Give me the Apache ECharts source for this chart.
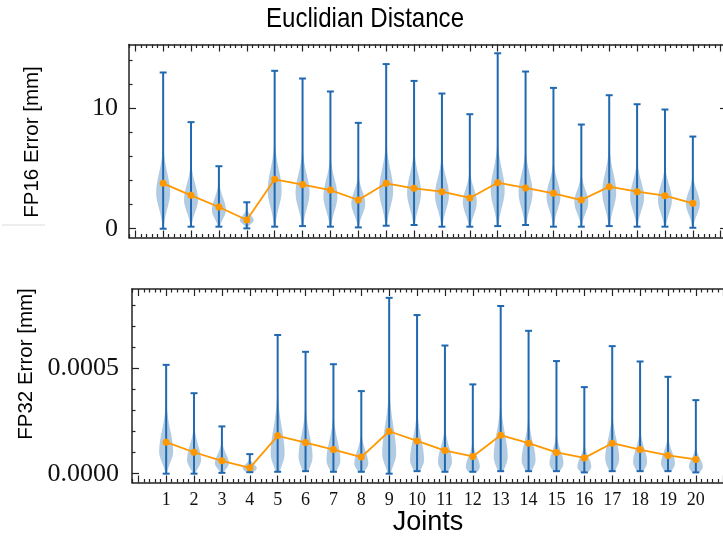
<!DOCTYPE html>
<html><head><meta charset="utf-8">
<script src="https://cdn.jsdelivr.net/npm/echarts@6/dist/echarts.min.js"></script>
<style>html,body{margin:0;padding:0;background:#fff}#c{width:723px;height:538px}</style>
</head><body><div id="c"></div>
<script>
// ---------------- data ----------------
const joints = [1,2,3,4,5,6,7,8,9,10,11,12,13,14,15,16,17,18,19,20];
const jointLabels = ['1','2','3','4','5','6','7','8','9','10','11','12','13','14','15','16','17','18','19','20'];

// FP16 error [mm]
const fp16Min  = [0.0,0.17,0.17,0.03,0.17,0.22,0.17,0.11,0.25,0.31,0.17,0.17,0.22,0.31,0.17,0.17,0.22,0.17,0.17,0.08];
const fp16Max  = [13.0,8.87,5.2,2.2,13.14,12.5,11.42,8.81,13.7,12.3,11.25,9.53,14.6,13.08,11.72,8.67,11.11,10.36,9.92,7.67];
const fp16Mean = [3.78,2.78,1.81,0.73,4.11,3.67,3.22,2.39,3.78,3.36,3.08,2.56,3.83,3.39,2.95,2.39,3.5,3.08,2.75,2.11];
// density shape of each violin: value of widest point, spread below / above it
const fp16Mode = [3.0,2.4,1.55,0.7,3.2,3.0,2.7,2.1,3.2,3.0,2.8,2.2,3.2,3.0,2.7,2.2,3.0,2.6,2.4,2.1];
const fp16SpreadLo = [1.3,1.0,0.7,0.3,1.4,1.3,1.2,0.9,1.4,1.3,1.2,1.0,1.4,1.3,1.1,0.9,1.3,1.1,1.1,0.9];
const fp16SpreadHi = [1.6,1.3,1.0,0.4,1.7,1.5,1.4,1.0,1.7,1.5,1.4,1.1,1.7,1.5,1.2,1.0,1.6,1.3,1.2,1.0];
const fp16TickValues = [0, 10];
const fp16TickLabels = ['0', '10'];

// FP32 error [mm]
const fp32Min  = [0.0,0.0,0.000004,0.000007,0.000009,0.000012,0.000009,0.000009,0.0,0.000012,0.000009,0.000009,0.000012,0.000012,0.000012,0.000006,0.000012,0.000012,0.000012,0.000006];
const fp32Max  = [0.000518,0.000383,0.000225,0.000093,0.00066,0.00058,0.000521,0.000393,0.000837,0.000755,0.00061,0.000425,0.000798,0.00068,0.000536,0.000412,0.000607,0.000534,0.000461,0.00035];
const fp32Mean = [0.00015,0.000102,0.000061,0.000028,0.00018,0.000148,0.000115,0.000079,0.000202,0.000156,0.00011,0.000082,0.000183,0.000145,0.000101,0.000075,0.000145,0.000115,0.000087,0.000068];
const fp32Mode = [0.000104,0.000064,0.000048,0.000025,0.000095,0.00008,0.000064,0.000048,0.000095,0.000064,0.000055,0.000032,0.00008,0.000064,0.000048,0.000032,0.000072,0.000055,0.000048,0.000032];
const fp32SpreadLo = [0.00005,0.000035,0.000025,0.000015,0.000055,0.00005,0.00004,0.00003,0.000055,0.00004,0.000035,0.000025,0.00005,0.00004,0.00003,0.000022,0.000045,0.000035,0.00003,0.000022];
const fp32SpreadHi = [0.0001,0.00007,0.000045,0.00002,0.00012,0.0001,0.00009,0.00006,0.00013,0.0001,0.00007,0.00005,0.00011,0.000085,0.00006,0.000045,0.00009,0.000065,0.000055,0.00004];
const fp32TickValues = [0, 0.0005];
const fp32TickLabels = ['0.0000', '0.0005'];

// ---------------- style ----------------
const BLUE = '#2068b0';
const BODY = 'rgba(12,93,165,0.32)';
const ORANGE = '#FF9800';
const AXIS = '#222';
const SERIF = '"Liberation Serif", "DejaVu Serif", serif';
const SANS = '"Liberation Sans", Arial, sans-serif';
const HALF = 0.25, CAP = 0.125;
const XMIN = -0.225, XMAX = 21.225;

const xMajor = []; for (let i = 0; i <= 21; i++) xMajor.push(i);
const xMinor = []; for (let i = -1; i <= 106; i++) { const v = i / 5; if (v > XMIN && v < XMAX && i % 5 !== 0) xMinor.push(v); }

function minorList(lo, hi, step, majors) {
  const out = [];
  for (let k = Math.ceil(lo / step); k * step <= hi; k++) {
    const v = +(k * step).toPrecision(10);
    if (!majors.some(m => Math.abs(m - v) < step * 1e-3)) out.push(v);
  }
  return out;
}

function makeAxes(gi, yMin, yMax, tickVals, tickLabels, minorStep, showX, labelMargin) {
  const line = {show: true, onZero: false, lineStyle: {color: AXIS, width: 1.5}};
  const noLine = {show: false, onZero: false};
  const tickStyle = {color: AXIS, width: 1.2};
  const xs = [];
  ['bottom', 'top'].forEach(pos => {
    xs.push({type: 'value', gridIndex: gi, position: pos, min: XMIN, max: XMAX,
      axisLine: line, splitLine: {show: false},
      axisTick: {show: true, inside: true, length: 7, customValues: xMajor, lineStyle: tickStyle},
      axisLabel: {show: showX && pos === 'bottom', customValues: joints,
        formatter: v => jointLabels[joints.indexOf(Math.round(v))] || '',
        fontFamily: SERIF, fontSize: 18, color: '#111', margin: 9}});
    xs.push({type: 'value', gridIndex: gi, position: pos, min: XMIN, max: XMAX,
      axisLine: noLine, splitLine: {show: false}, axisLabel: {show: false},
      axisTick: {show: true, inside: true, length: 3.5, customValues: xMinor, lineStyle: tickStyle}});
  });
  const minors = minorList(yMin, yMax, minorStep, tickVals);
  const ys = [];
  ['left', 'right'].forEach(pos => {
    ys.push({type: 'value', gridIndex: gi, position: pos, min: yMin, max: yMax,
      axisLine: line, splitLine: {show: false},
      axisTick: {show: true, inside: true, length: 7, customValues: tickVals, lineStyle: tickStyle},
      axisLabel: {show: pos === 'left', customValues: tickVals,
        formatter: v => { const i = tickVals.findIndex(t => Math.abs(t - v) < 1e-9); return i >= 0 ? tickLabels[i] : ''; },
        fontFamily: SERIF, fontSize: 26, color: '#111', margin: labelMargin}});
    ys.push({type: 'value', gridIndex: gi, position: pos, min: yMin, max: yMax,
      axisLine: noLine, splitLine: {show: false}, axisLabel: {show: false},
      axisTick: {show: true, inside: true, length: 3.5, customValues: minors, lineStyle: tickStyle}});
  });
  return {xs, ys};
}

function violinRender(params, api) {
  const pos = api.value(0), lo = api.value(1), hi = api.value(2);
  const mode = api.value(3), sLo = api.value(4), sHi = api.value(5);
  const n = 160, right = [], left = [];
  for (let k = 0; k <= n; k++) {
    const v = lo + (hi - lo) * k / n;
    const s = v < mode ? sLo : sHi;
    const z = (v - mode) / s;
    const hw = HALF * Math.exp(-0.5 * z * z);
    right.push(api.coord([pos + hw, v]));
    left.push(api.coord([pos - hw, v]));
  }
  const pts = right.concat(left.reverse());
  const pLo = api.coord([pos, lo]), pHi = api.coord([pos, hi]);
  const cL = api.coord([pos - CAP, lo]), cR = api.coord([pos + CAP, lo]);
  const tL = api.coord([pos - CAP, hi]), tR = api.coord([pos + CAP, hi]);
  const ls = {stroke: BLUE, lineWidth: 2};
  return {type: 'group', children: [
    {type: 'polygon', shape: {points: pts, smooth: 0}, style: {fill: BODY}},
    {type: 'line', shape: {x1: pLo[0], y1: pLo[1], x2: pHi[0], y2: pHi[1]}, style: ls},
    {type: 'line', shape: {x1: cL[0], y1: cL[1], x2: cR[0], y2: cR[1]}, style: ls},
    {type: 'line', shape: {x1: tL[0], y1: tL[1], x2: tR[0], y2: tR[1]}, style: ls}
  ]};
}

function violinData(mins, maxs, modes, sl, sh) {
  return joints.map((j, i) => [j, mins[i], maxs[i], modes[i], sl[i], sh[i]]);
}

const a0 = makeAxes(0, -0.73, 15.33, fp16TickValues, fp16TickLabels, 2, false, 11);
const a1 = makeAxes(1, -0.000042, 0.000879, fp32TickValues, fp32TickLabels, 0.0001, true, 13);

const chart = echarts.init(document.getElementById('c'), null, {renderer: 'canvas'});
chart.setOption({
  animation: false,
  backgroundColor: '#fff',
  grid: [
    {left: 129, top: 44.5, width: 598, height: 193, containLabel: false, outerBoundsMode: 'none'},
    {left: 132, top: 289, width: 598, height: 193.5, containLabel: false, outerBoundsMode: 'none'}
  ],
  xAxis: a0.xs.concat(a1.xs),
  yAxis: a0.ys.concat(a1.ys),
  graphic: [
    {type: 'text', x: 365, y: 19, scaleX: 0.86, style: {text: 'Euclidian Distance', font: '28px ' + SANS, fill: '#000', align: 'center', verticalAlign: 'middle'}},
    {type: 'text', x: 428, y: 523, style: {text: 'Joints', font: '27px ' + SANS, fill: '#000', align: 'center', verticalAlign: 'middle'}},
    {type: 'text', x: 32, y: 142, rotation: Math.PI / 2, style: {text: 'FP16 Error [mm]', font: '20.5px ' + SANS, fill: '#000', align: 'center', verticalAlign: 'middle'}},
    {type: 'text', x: 26, y: 364, rotation: Math.PI / 2, style: {text: 'FP32 Error [mm]', font: '20.5px ' + SANS, fill: '#000', align: 'center', verticalAlign: 'middle'}},
    {type: 'line', shape: {x1: 2, y1: 225, x2: 45, y2: 225}, style: {stroke: '#dcdcdc', lineWidth: 1}}
  ],
  series: [
    {type: 'custom', xAxisIndex: 0, yAxisIndex: 0, renderItem: violinRender, encode: {x: 0, y: [1, 2]},
      data: violinData(fp16Min, fp16Max, fp16Mode, fp16SpreadLo, fp16SpreadHi), z: 2},
    {type: 'line', xAxisIndex: 0, yAxisIndex: 0, data: joints.map((j, i) => [j, fp16Mean[i]]),
      symbol: 'circle', symbolSize: 7, lineStyle: {color: ORANGE, width: 1.8}, itemStyle: {color: ORANGE}, z: 5},
    {type: 'custom', xAxisIndex: 4, yAxisIndex: 4, renderItem: violinRender, encode: {x: 0, y: [1, 2]},
      data: violinData(fp32Min, fp32Max, fp32Mode, fp32SpreadLo, fp32SpreadHi), z: 2},
    {type: 'line', xAxisIndex: 4, yAxisIndex: 4, data: joints.map((j, i) => [j, fp32Mean[i]]),
      symbol: 'circle', symbolSize: 7, lineStyle: {color: ORANGE, width: 1.8}, itemStyle: {color: ORANGE}, z: 5}
  ]
});
</script></body></html>
